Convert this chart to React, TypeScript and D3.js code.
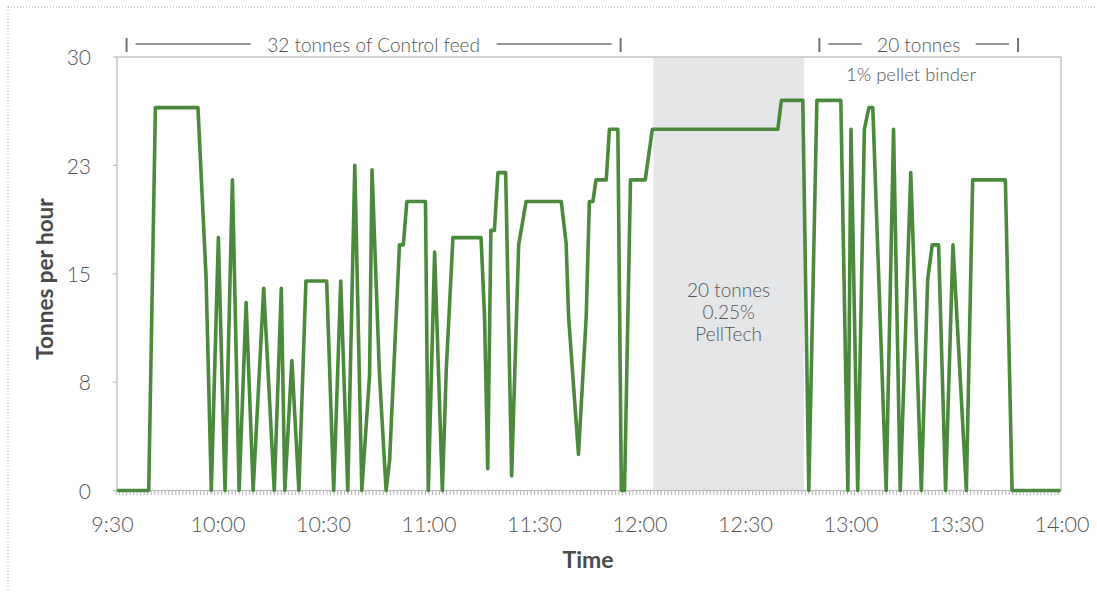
import React from "react";
import * as d3 from "d3";

// minutes after 9:30
const minutes = [1.1, 10.3, 12.2, 24.3, 26.6, 28.1, 30.1, 32.0, 34.1, 36.0, 38.0, 40.0, 43.0, 46.0, 48.0, 49.0, 51.0, 53.0, 55.0, 60.9,
  62.9, 64.9, 66.9, 68.9, 70.9, 73.1, 73.8, 75.9, 77.8, 78.8, 81.6, 82.7, 83.7, 89.0, 89.8, 91.6, 93.8, 94.9, 96.8, 104.8,
  105.8, 106.7, 107.6, 108.6, 109.6, 111.8, 113.5, 115.5, 117.6, 127.6, 129.0, 129.7, 132.5, 134.7, 135.6, 136.6, 137.5, 140.4, 141.3, 143.7,
  144.7, 145.6, 147.3, 151.5, 153.5, 189.2, 190.2, 196.3, 198.0, 200.3, 207.1, 209.1, 210.0, 211.9, 213.8, 215.1, 216.2, 220.0, 222.1, 224.0,
  227.0, 230.0, 231.8, 233.1, 234.9, 236.9, 239.0, 242.8, 244.6, 253.9, 255.8, 269.6];
const tonnes = [0, 0, 26.5, 26.5, 14.8, 0, 17.5, 0, 21.5, 0, 13.0, 0, 14.0, 0, 14.0, 0, 9.0, 0, 14.5, 14.5,
  0, 14.5, 0, 22.5, 0, 8.0, 22.2, 8.1, 0, 2.1, 17.0, 17.0, 20.0, 20.0, 0, 16.5, 0, 8.3, 17.5, 17.5,
  12.0, 1.5, 18.0, 18.0, 22.0, 22.0, 1.0, 17.0, 20.0, 20.0, 17.1, 12.0, 2.5, 12.0, 20.0, 20.0, 21.5, 21.5, 25.0, 25.0,
  0, 0, 21.5, 21.5, 25.0, 25.0, 27.0, 27.0, 0, 27.0, 27.0, 0, 25.0, 0, 25.0, 26.5, 26.5, 0, 25.0, 0,
  22.0, 0, 14.6, 17.0, 17.0, 0, 17.0, 0, 21.5, 21.5, 0, 0];

const xTickMinutes = [0, 30, 60, 90, 120, 150, 180, 210, 240, 270];
const xTickLabels = ["9:30", "10:00", "10:30", "11:00", "11:30", "12:00", "12:30", "13:00", "13:30", "14:00"];
const yTickValues = [0, 7.5, 15, 22.5, 30];
const yTickLabels = ["0", "8", "15", "23", "30"];

const shadeRange = [153.8, 196.6];
const shadeText = ["20 tonnes", "0.25%", "PellTech"];
const controlBracket = [4, 144.5];
const binderBracket = [201, 257.5];

export default function App() {
  const W = 1097, H = 592;
  const left = 117, right = 1061, top = 57, bottom = 490.5;
  const x = d3.scaleLinear().domain([0, 270]).range([112.5, 1062]);
  const y = d3.scaleLinear().domain([0, 30]).range([bottom, top]);
  const pts = minutes.map((m, i) => [m, tonnes[i]] as [number, number]);
  const line = d3.line<[number, number]>().x(d => x(d[0])).y(d => y(d[1]));
  const font = "Lato, 'Open Sans', sans-serif";
  const txt = "#555555";
  const minorTicks = d3.range(1, 270, 1);
  const bracketY = 44;

  const bracket = (a: number, b: number, label: string, textW: number, key: string) => {
    const xa = x(a), xb = x(b);
    const cx = (xa + xb) / 2;
    return (
      <g key={key}>
        <line x1={xa} x2={xa} y1={38} y2={52} stroke="#707070" strokeWidth={2} />
        <line x1={xb} x2={xb} y1={38} y2={52} stroke="#707070" strokeWidth={2} />
        <line x1={xa + 9} x2={cx - textW / 2 - 16} y1={bracketY} y2={bracketY} stroke="#707070" strokeWidth={1.3} />
        <line x1={cx + textW / 2 + 16} x2={xb - 9} y1={bracketY} y2={bracketY} stroke="#707070" strokeWidth={1.3} />
        <text x={cx} y={bracketY + 1} dy="0.35em" textAnchor="middle" fontSize={19} fontWeight={300} fill={txt} fontFamily={font}>{label}</text>
      </g>
    );
  };

  return (
    <svg width={W} height={H} style={{ position: "absolute", left: 0, top: 0 }}>
      <defs>
        <clipPath id="plotclip">
          <rect x={left} y={top - 4} width={right - left} height={bottom - top + 8} />
        </clipPath>
      </defs>
      {/* outer dotted frame */}
      <line x1={8} x2={W} y1={7} y2={7} stroke="#aaa" strokeWidth={1} strokeDasharray="1,2" />
      <line x1={8} x2={8} y1={7} y2={H} stroke="#aaa" strokeWidth={1} strokeDasharray="1,2" />

      {/* shaded region */}
      <rect x={x(shadeRange[0])} y={top} width={x(shadeRange[1]) - x(shadeRange[0])} height={bottom - top} fill="#e5e6e8" />
      {shadeText.map((t, i) => (
        <text key={t} x={(x(shadeRange[0]) + x(shadeRange[1])) / 2} y={290 + i * 22} dy="0.35em" textAnchor="middle" fontSize={19} fontWeight={300} fill={txt} fontFamily={font}>{t}</text>
      ))}

      {/* plot frame */}
      <rect x={left} y={top} width={right - left} height={bottom - top} fill="none" stroke="#bdbdbd" strokeWidth={1.3} />

      {/* x minor ticks */}
      {minorTicks.map(m => (
        <line key={m} x1={x(m)} x2={x(m)} y1={bottom} y2={bottom + 4.5} stroke="#b5b5b5" strokeWidth={1} />
      ))}
      {/* y ticks */}
      {yTickValues.map((v, i) => (
        <g key={v}>
          <line x1={left - 4} x2={left} y1={y(v)} y2={y(v)} stroke="#bdbdbd" strokeWidth={1.2} />
          <text x={91} y={y(v) + 1} dy="0.35em" textAnchor="end" fontSize={21} fontWeight={300} fill={txt} fontFamily={font}>{yTickLabels[i]}</text>
        </g>
      ))}
      {/* x labels */}
      {xTickMinutes.map((m, i) => (
        <text key={m} x={x(m)} y={524} dy="0.35em" textAnchor="middle" fontSize={21.5} fontWeight={300} fill={txt} fontFamily={font}>{xTickLabels[i]}</text>
      ))}

      {/* data line */}
      <path d={line(pts) || ""} fill="none" stroke="#4b8a3d" strokeWidth={3.6} strokeLinejoin="round" clipPath="url(#plotclip)" />

      {/* annotations */}
      {bracket(controlBracket[0], controlBracket[1], "32 tonnes of Control feed", 214, "c")}
      {bracket(binderBracket[0], binderBracket[1], "20 tonnes", 82, "b")}
      <text x={911} y={75} dy="0.35em" textAnchor="middle" fontSize={18.5} fontWeight={300} fill={txt} fontFamily={font}>1% pellet binder</text>

      {/* axis titles */}
      <text x={588} y={560} dy="0.35em" textAnchor="middle" fontSize={23} fontWeight={700} fill="#4a4a4a" fontFamily={font}>Time</text>
      <text transform={`translate(45,${279}) rotate(-90)`} textAnchor="middle" dy="0.35em" fontSize={22.5} fontWeight={700} fill="#4a4a4a" fontFamily={font}>Tonnes per hour</text>
    </svg>
  );
}
